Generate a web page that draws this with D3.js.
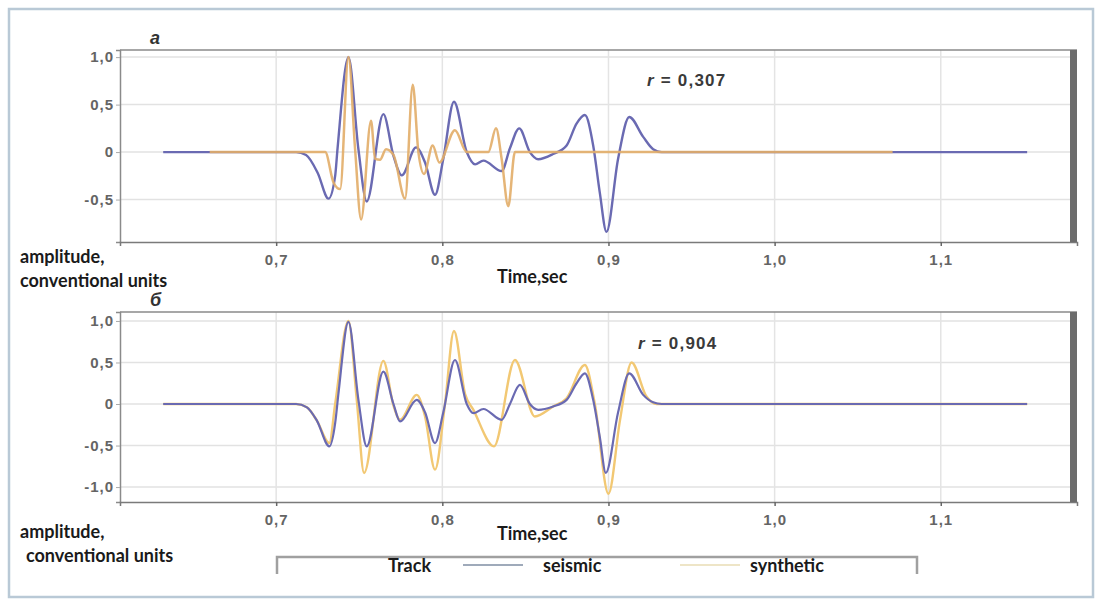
<!DOCTYPE html>
<html>
<head>
<meta charset="utf-8">
<script src="https://cdn.jsdelivr.net/npm/d3@7"></script>
<style>
  body { margin: 0; background: #fff; }
  svg { display: block; }
  .tick text { font-family: "Liberation Sans", Arial, sans-serif; font-weight: bold; font-size: 15px; letter-spacing: 1px; fill: #646464; }
  .lbl { font-family: Lato, "Open Sans", sans-serif; font-weight: bold; font-size: 18px; fill: #1a1a1a; }
</style>
</head>
<body>
<script>
// time ticks (shared by both panels)
var xTicks = [0.7, 0.8, 0.9, 1.0, 1.1];
var xTickLabels = ["0,7", "0,8", "0,9", "1,0", "1,1"];

// panel "а" - amplitude ticks
var yTicksA = [1.0, 0.5, 0, -0.5];
var yTickLabelsA = ["1,0", "0,5", "0", "-0,5"];
// panel "б"
var yTicksB = [1.0, 0.5, 0, -0.5, -1.0];
var yTickLabelsB = ["1,0", "0,5", "0", "-0,5", "-1,0"];

// panel "а" seismic trace
var timeSeisA = [0.632, 0.712, 0.718, 0.725, 0.7315, 0.7355, 0.7369, 0.7435, 0.7495, 0.7545, 0.7645, 0.7706, 0.7756, 0.7842, 0.7896, 0.7956, 0.8006, 0.807, 0.8147, 0.8197, 0.8247, 0.8357, 0.8407, 0.8463, 0.8527, 0.8577, 0.8667, 0.8748, 0.8808, 0.8858, 0.8908, 0.8948, 0.8988, 0.9058, 0.9125, 0.9209, 0.9269, 0.932, 1.152];
var ampSeisA = [0, 0, -0.03, -0.22, -0.49, -0.25, 0.03, 1.0, 0.03, -0.52, 0.40, -0.04, -0.245, 0.05, -0.11, -0.45, -0.07, 0.53, 0.0, -0.13, -0.09, -0.2, 0.04, 0.25, 0.0, -0.075, -0.02, 0.07, 0.3, 0.39, 0.07, -0.43, -0.84, -0.07, 0.37, 0.16, 0.03, 0, 0];

// panel "а" synthetic trace
var timeSynA = [0.66, 0.7295, 0.7345, 0.7385, 0.7435, 0.7475, 0.7511, 0.7571, 0.7595, 0.7625, 0.7661, 0.7706, 0.7776, 0.7822, 0.7856, 0.789, 0.7942, 0.7982, 0.8076, 0.8147, 0.8277, 0.8323, 0.8357, 0.8397, 0.8437, 1.071];
var ampSynA = [0, 0, -0.32, -0.39, 1.0, 0.03, -0.71, 0.33, -0.07, -0.08, 0.03, -0.03, -0.49, 0.71, 0, -0.23, 0.07, -0.11, 0.23, 0, 0, 0.25, -0.07, -0.57, 0, 0];

// panel "б" seismic trace
var timeSeisB = [0.632, 0.712, 0.7185, 0.7245, 0.732, 0.7355, 0.7375, 0.7435, 0.7495, 0.7545, 0.7645, 0.7706, 0.7746, 0.7846, 0.7896, 0.7956, 0.8006, 0.8076, 0.8147, 0.8187, 0.8247, 0.8357, 0.8407, 0.8467, 0.8527, 0.8577, 0.8667, 0.8748, 0.8808, 0.8858, 0.8908, 0.8948, 0.8984, 0.9058, 0.9125, 0.9209, 0.9269, 0.932, 1.152];
var ampSeisB = [0, 0, -0.04, -0.2, -0.51, -0.23, 0.13, 0.99, 0.05, -0.51, 0.39, 0.0, -0.21, 0.05, -0.1, -0.47, -0.1, 0.53, 0.0, -0.11, -0.06, -0.19, 0.0, 0.23, 0.0, -0.07, -0.03, 0.05, 0.25, 0.37, 0.05, -0.4, -0.83, -0.1, 0.37, 0.11, 0.02, 0, 0];

// panel "б" synthetic trace
var timeSynB = [0.632, 0.712, 0.7185, 0.7245, 0.732, 0.7355, 0.7435, 0.7485, 0.7529, 0.7645, 0.7706, 0.7746, 0.7846, 0.7896, 0.7956, 0.8016, 0.807, 0.8137, 0.8187, 0.8311, 0.8437, 0.8557, 0.8667, 0.8748, 0.8858, 0.8918, 0.9, 0.9069, 0.9139, 0.9229, 0.929, 1.152];
var ampSynB = [0, 0, -0.04, -0.2, -0.47, 0.0, 1.0, 0.05, -0.83, 0.52, -0.02, -0.19, 0.11, -0.15, -0.79, 0.0, 0.88, 0.12, -0.07, -0.51, 0.53, -0.15, -0.03, 0.07, 0.47, 0.0, -1.08, -0.2, 0.50, 0.09, 0, 0];

var W = 1101, H = 603;
var seisColor = "#6a6ab2";

var svg = d3.select("body")
    .append("svg")
    .attr("width", W)
    .attr("height", H);

// outer frame
svg.append("rect")
    .attr("x", 9).attr("y", 9)
    .attr("width", 1084).attr("height", 588)
    .attr("fill", "none")
    .attr("stroke", "#b9c9d6")
    .attr("stroke-width", 2.5);

function zip(ts, vs) {
    return ts.map(function(t, i) { return [t, vs[i]]; });
}

function drawPanel(p) {
    var x = d3.scaleLinear().domain([0.606, 1.182]).range([120, 1077]);
    var y = d3.scaleLinear().domain(p.yDomain).range([p.bottom, p.top]);
    var g = svg.append("g");

    // grid
    g.selectAll(".hg").data(p.yTicks).enter().append("line")
        .attr("x1", 120).attr("x2", 1070)
        .attr("y1", function(d) { return y(d); })
        .attr("y2", function(d) { return y(d); })
        .attr("stroke", "#e2e2e2").attr("stroke-width", 1.5);
    g.selectAll(".vg").data(xTicks).enter().append("line")
        .attr("x1", function(d) { return x(d); })
        .attr("x2", function(d) { return x(d); })
        .attr("y1", p.top).attr("y2", p.bottom)
        .attr("stroke", "#e4e4e4").attr("stroke-width", 1.5);

    // axes
    var ya = d3.axisLeft(y).tickValues(p.yTicks).tickSize(4).tickPadding(2)
        .tickFormat(function(d, i) { return p.yLabels[i]; });
    g.append("g").attr("transform", "translate(120,0)").call(ya)
        .call(function(s) {
            s.select(".domain").attr("stroke", "#8a8a8a").attr("stroke-width", 1.5);
            s.selectAll(".tick line").attr("stroke", "#aaa");
        });
    var xa = d3.axisBottom(x).tickValues(xTicks).tickSize(4).tickPadding(8)
        .tickFormat(function(d, i) { return xTickLabels[i]; });
    g.append("g").attr("transform", "translate(0," + p.bottom + ")").call(xa)
        .call(function(s) {
            s.select(".domain").attr("stroke", "#7a7a7a").attr("stroke-width", 1.5);
            s.selectAll(".tick line").attr("stroke", "#666").attr("stroke-width", 1.5);
        });

    // top border + thick right bar
    g.append("line").attr("x1", 120).attr("x2", 1077)
        .attr("y1", p.top).attr("y2", p.top)
        .attr("stroke", "#8a8a8a").attr("stroke-width", 1.5);
    g.append("rect").attr("x", 1070).attr("y", p.top)
        .attr("width", 7).attr("height", p.bottom - p.top)
        .attr("fill", "#6c6c6c");

    var line = d3.line()
        .x(function(d) { return x(d[0]); })
        .y(function(d) { return y(d[1]); })
        .curve(d3.curveMonotoneX);

    p.layers.forEach(function(l) {
        g.append("path")
            .datum(zip(l.t, l.v))
            .attr("d", line)
            .attr("fill", "none")
            .attr("stroke", l.color)
            .attr("stroke-width", l.width)
            .attr("stroke-opacity", l.opacity)
            .attr("stroke-linejoin", "round");
    });

    // panel letter
    g.append("text").attr("x", 150).attr("y", p.top - 6)
        .attr("font-family", "Liberation Sans, Arial, sans-serif")
        .attr("font-style", "italic").attr("font-weight", "bold")
        .attr("font-size", 18).attr("fill", "#333")
        .text(p.letter);

    // correlation
    var r = g.append("text").attr("x", p.rx).attr("y", p.ry)
        .attr("font-family", "Liberation Sans, Arial, sans-serif")
        .attr("font-weight", "bold").attr("font-size", 17)
        .attr("letter-spacing", "1.2px").attr("fill", "#3a3a3a");
    r.append("tspan").attr("font-style", "italic").text("r");
    r.append("tspan").text(" = " + p.r);

    // axis titles
    svg.append("text").attr("class", "lbl").attr("x", p.timeX).attr("y", p.timeY).text("Time,sec");
    svg.append("text").attr("class", "lbl").attr("x", p.ampX).attr("y", p.ampY).text("amplitude,");
    svg.append("text").attr("class", "lbl").attr("x", p.ampX2).attr("y", p.ampY + 24).text("conventional units");
}

drawPanel({
    top: 50, bottom: 242, yDomain: [-0.947, 1.075],
    yTicks: yTicksA, yLabels: yTickLabelsA, letter: "а",
    r: "0,307", rx: 647, ry: 86,
    timeX: 497, timeY: 283, ampX: 20, ampY: 263, ampX2: 20,
    layers: [
        { t: timeSeisA, v: ampSeisA, color: seisColor, width: 2.4, opacity: 1 },
        { t: timeSynA, v: ampSynA, color: "#e2ad68", width: 2.5, opacity: 0.9 }
    ]
});

drawPanel({
    top: 312, bottom: 502, yDomain: [-1.18, 1.108],
    yTicks: yTicksB, yLabels: yTickLabelsB, letter: "б",
    r: "0,904", rx: 638, ry: 349,
    timeX: 497, timeY: 540, ampX: 20, ampY: 538, ampX2: 26,
    layers: [
        { t: timeSynB, v: ampSynB, color: "#f2c873", width: 2.4, opacity: 1 },
        { t: timeSeisB, v: ampSeisB, color: seisColor, width: 2.2, opacity: 1 }
    ]
});

// legend
var leg = svg.append("g");
leg.append("path")
    .attr("d", "M277,574 V557 H917 V574")
    .attr("fill", "none").attr("stroke", "#a0a0a0").attr("stroke-width", 2.5);
leg.append("text").attr("class", "lbl").attr("x", 388).attr("y", 572).text("Track");
leg.append("line").attr("x1", 463).attr("x2", 523).attr("y1", 565).attr("y2", 565)
    .attr("stroke", "#7f8ea3").attr("stroke-width", 1.5);
leg.append("text").attr("class", "lbl").attr("x", 543).attr("y", 572).text("seismic");
leg.append("line").attr("x1", 680).attr("x2", 740).attr("y1", 565).attr("y2", 565)
    .attr("stroke", "#e8dcb4").attr("stroke-width", 1.5);
leg.append("text").attr("class", "lbl").attr("x", 750).attr("y", 572).text("synthetic");
</script>
</body>
</html>
